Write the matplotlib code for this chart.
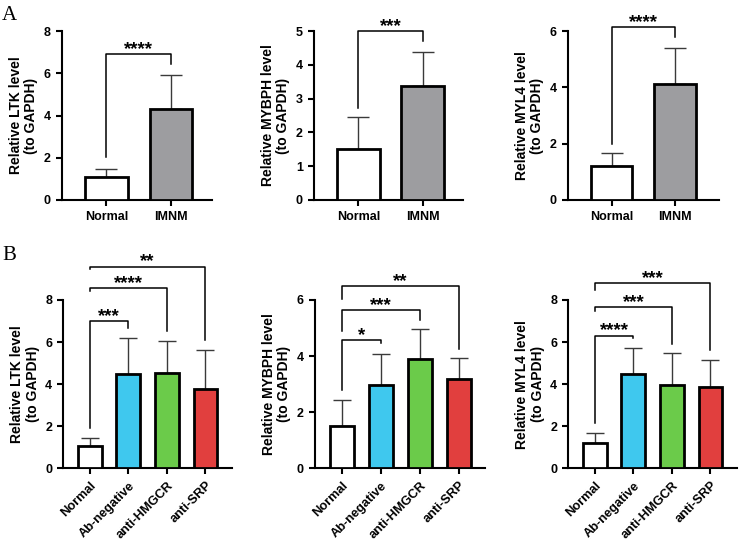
import numpy as np
import matplotlib
matplotlib.use("Agg")
import matplotlib.pyplot as plt

plt.rcParams['font.family'] = ['Liberation Sans', 'DejaVu Sans']
plt.rcParams['font.weight'] = 'bold'

# --- data ---
groups_a = ['Normal', 'IMNM']
ltk_a = [1.10, 4.30]
ltk_a_sd = [0.38, 1.62]
mybph_a = [1.51, 3.37]
mybph_a_sd = [0.94, 1.02]
myl4_a = [1.21, 4.11]
myl4_a_sd = [0.47, 1.30]

groups_b = ['Normal', 'Ab-negative', 'anti-HMGCR', 'anti-SRP']
ltk_b = [1.05, 4.50, 4.53, 3.79]
ltk_b_sd = [0.41, 1.71, 1.54, 1.82]
mybph_b = [1.51, 2.96, 3.91, 3.18]
mybph_b_sd = [0.92, 1.13, 1.04, 0.75]
myl4_b = [1.18, 4.46, 3.96, 3.86]
myl4_b_sd = [0.48, 1.28, 1.51, 1.27]

colors_a = ['white', '#9d9da0']
colors_b = ['white', '#3fc8ee', '#6bcb4a', '#e13f3e']

# brackets: (left idx, right idx, height, left leg bottom, right leg bottom, label)
sig_ltk_a = [(0, 1, 6.93, 2.05, 6.46, '****')]
sig_mybph_a = [(0, 1, 5.0, 2.72, 4.70, '***')]
sig_myl4_a = [(0, 1, 6.15, 2.0, 5.80, '****')]
sig_ltk_b = [(0, 1, 7.0, 1.9, 6.66, '***'),
             (0, 2, 8.59, 8.45, 6.55, '****'),
             (0, 3, 9.59, 9.45, 6.10, '**')]
sig_mybph_b = [(0, 1, 4.56, 2.78, 4.46, '*'),
               (0, 2, 5.64, 4.91, 5.29, '***'),
               (0, 3, 6.51, 6.05, 4.26, '**')]
sig_myl4_b = [(0, 1, 6.31, 2.13, 6.20, '****'),
              (0, 2, 7.65, 7.49, 5.91, '***'),
              (0, 3, 8.82, 8.49, 5.60, '***')]

W, H = 739, 541
fig = plt.figure(figsize=(W / 100, H / 100), dpi=100)


def px_axes(x0, x1, y0, y1):
    # y0 = top pixel, y1 = bottom pixel
    return fig.add_axes([x0 / W, 1 - y1 / H, (x1 - x0) / W, (y1 - y0) / H])


def panel(ax, groups, means, sds, colors, sigs, ymax, ystep, label, xmax,
          width, capsize, rotate):
    x = np.arange(len(groups))
    ax.bar(x, means, width=width, color=colors, edgecolor='black',
           linewidth=2.0, zorder=3)
    ax.errorbar(x, means, yerr=[np.zeros(len(sds)), sds], fmt='none',
                ecolor='#3a3a3a', elinewidth=1.0, capsize=capsize,
                capthick=1.0, zorder=2)
    ax.set_ylim(0, ymax)
    ax.set_xlim(-0.69, xmax)
    ax.set_yticks(np.arange(0, ymax + 0.01, ystep))
    ax.set_xticks(x)
    if rotate:
        ax.set_xticklabels(groups, rotation=45, ha='right',
                           rotation_mode='anchor', fontsize=9.2, fontweight='bold')
    else:
        ax.set_xticklabels(groups, fontsize=9, fontweight='bold')
    for t in ax.get_yticklabels():
        t.set_fontweight('bold')
        t.set_fontsize(9)
    ax.set_ylabel(label, fontsize=10, fontweight='bold', linespacing=1.15)
    for s in ['top', 'right']:
        ax.spines[s].set_visible(False)
    for s in ['left', 'bottom']:
        ax.spines[s].set_linewidth(1.5)
    ax.tick_params(width=1.5, length=4.5, direction='out')
    for i, j, yb, lb, rb, txt in sigs:
        ax.plot([i, i, j, j], [lb, yb, yb, rb], color='black', lw=1.1,
                clip_on=False, zorder=4)
        ax.annotate(txt, xy=((i + j) / 2, yb), xytext=(0, 0),
                    textcoords='offset points', ha='center', va='baseline',
                    fontsize=13.5, fontweight='bold', annotation_clip=False)


top_y = (31, 200)
bot_y = (300, 468.3)

ax1 = px_axes(62, 212, *top_y)
panel(ax1, groups_a, ltk_a, ltk_a_sd, colors_a, sig_ltk_a, 8, 2,
      'Relative LTK level\n(to GAPDH)', 1.64, 0.66, 8, False)
ax2 = px_axes(314, 463, *top_y)
panel(ax2, groups_a, mybph_a, mybph_a_sd, colors_a, sig_mybph_a, 5, 1,
      'Relative MYBPH level\n(to GAPDH)', 1.63, 0.66, 8, False)
ax3 = px_axes(568, 719, *top_y)
panel(ax3, groups_a, myl4_a, myl4_a_sd, colors_a, sig_myl4_a, 6, 2,
      'Relative MYL4 level\n(to GAPDH)', 1.70, 0.66, 8, False)

ax4 = px_axes(63.3, 231.7, *bot_y)
panel(ax4, groups_b, ltk_b, ltk_b_sd, colors_b, sig_ltk_b, 8, 2,
      'Relative LTK level\n(to GAPDH)', 3.68, 0.62, 6.5, True)
ax5 = px_axes(315, 485, *bot_y)
panel(ax5, groups_b, mybph_b, mybph_b_sd, colors_b, sig_mybph_b, 6, 2,
      'Relative MYBPH level\n(to GAPDH)', 3.67, 0.62, 6.5, True)
ax6 = px_axes(568.3, 736.7, *bot_y)
panel(ax6, groups_b, myl4_b, myl4_b_sd, colors_b, sig_myl4_b, 8, 2,
      'Relative MYL4 level\n(to GAPDH)', 3.68, 0.62, 6.5, True)

fig.text(2 / W, 1 - 6 / H, 'A', family='Liberation Serif', fontweight='normal',
         fontsize=15, va='top', ha='left')
fig.text(2 / W, 1 - 246 / H, 'B', family='Liberation Serif', fontweight='normal',
         fontsize=15, va='top', ha='left')

fig.savefig('out.png', dpi=100)
